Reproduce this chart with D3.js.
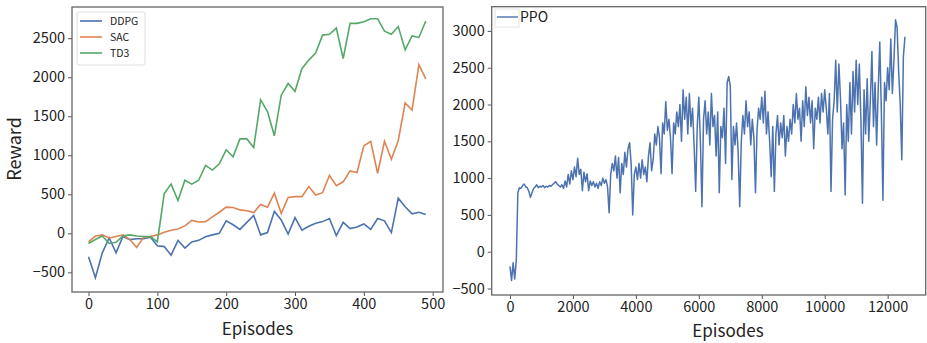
<!DOCTYPE html>
<html>
<head>
<meta charset="utf-8">
<script src="https://cdn.jsdelivr.net/npm/d3@7"></script>
<style>
  body { margin: 0; background: #fff; }
  svg text { font-family: "Noto Sans CJK SC", "Noto Sans", sans-serif; fill: #222; }
</style>
</head>
<body>
<svg id="chart" width="927" height="343"></svg>
<script>
// left panel: reward every 10 episodes
const episodes = d3.range(0, 500, 10);
const ddpg = [-300, -570, -250, -60, -250, -40, -80, -70, -70, -50,
  -160, -170, -280, -90, -190, -110, -90, -45, -20, 0,
  160, 110, 50, 140, 230, -20, 10, 280, 170, -10,
  200, 40, 90, 130, 150, 190, -30, 140, 60, 80,
  120, 50, 190, 160, 10, 450, 340, 250, 270, 240];
const sac = [-110, -35, -20, -60, -40, -20, -80, -180, -50, -40,
  -20, 15, 40, 55, 95, 165, 145, 150, 210, 270,
  335, 330, 300, 290, 265, 370, 335, 515, 255, 460,
  470, 470, 600, 490, 520, 740, 610, 660, 800, 780,
  1120, 1180, 770, 1180, 950, 1190, 1670, 1580, 2160, 1980];
const td3 = [-130, -80, -35, -130, -115, -35, -20, -35, -40, -40,
  -110, 510, 630, 420, 680, 630, 680, 870, 810, 890,
  1070, 980, 1210, 1210, 1100, 1710, 1560, 1250, 1770, 1920,
  1820, 2110, 2220, 2310, 2540, 2550, 2630, 2240, 2690, 2690,
  2710, 2750, 2750, 2590, 2550, 2650, 2350, 2530, 2510, 2720];
const leftSeries = [
  { name: "DDPG", values: ddpg, color: "#4c72b0" },
  { name: "SAC", values: sac, color: "#dd8452" },
  { name: "TD3", values: td3, color: "#55a868" }
];
const leftXTicks = [0, 100, 200, 300, 400, 500];
const leftYTicks = [-500, 0, 500, 1000, 1500, 2000, 2500];

// right panel: PPO reward read every 50 episodes
const ppoStep = 50;
const ppo = [
  -200, -390, -150, -370, -120, 800, 870, 860, 900, 920, 880, 870, 820, 740, 800, 860, 880, 910, 870, 890,
  880, 900, 870, 890, 880, 900, 890, 910, 930, 950, 920, 900, 880, 910, 860, 960, 880, 1050, 920, 1100,
  980, 1150, 1020, 1270, 1050, 1120, 830, 1080, 950, 1060, 830, 960, 900, 950, 880, 930, 860, 950, 900, 1000,
  930, 980, 880, 530, 1050, 1200, 1100, 1300, 1000, 1280, 800, 1200, 1050, 1350, 1150, 1400, 1480, 1200, 500, 1050,
  1150, 980, 1200, 1000, 1250, 1050, 1150, 950, 1300, 1480, 1100, 1250, 1600, 1450, 1700, 1550, 1060, 1750, 1600, 2040,
  1650, 1800, 1550, 1060, 1750, 1600, 1900, 1700, 2000, 1500, 2200, 1800, 2100, 1600, 2150, 1700, 1950, 1450, 820, 1700,
  2100, 1500, 610, 1800, 2050, 1600, 1900, 1450, 2150, 1700, 1850, 1300, 1900, 800, 1700, 1550, 1950, 1200, 2300, 2380,
  2250, 980, 1700, 1450, 1750, 1350, 610, 1500, 1850, 1600, 2050, 1700, 1900, 1450, 1800, 1550, 800, 1650, 1950, 1800,
  2100, 1750, 2180, 1600, 1900, 1500, 1020, 1700, 820, 1600, 1850, 1450, 1750, 1550, 1850, 1300, 1700, 1500, 1800, 1600,
  2000, 1750, 2150, 1800, 1950, 1500, 2050, 1700, 2240, 1850, 2100, 1750, 2050, 1400, 1950, 1800, 2100, 1750, 2150, 1900,
  2200, 1950, 1600, 2150, 820, 1800, 2050, 2600, 1900, 2550, 2100, 1400, 1750, 770, 2000, 1500, 2300, 1600, 2450, 1900,
  2600, 2000, 2550, 1800, 660, 2200, 1600, 2350, 1500, 2050, 2720, 1700, 2300, 1450, 2200, 2850, 1900, 700, 2300, 2050,
  2500, 2200, 2890, 2150, 2600, 3150, 3050, 2450, 2000, 1250, 2650, 2920
];
const rightXTicks = [0, 2000, 4000, 6000, 8000, 10000, 12000];
const rightYTicks = [-500, 0, 500, 1000, 1500, 2000, 2500, 3000];

const svg = d3.select("#chart");

function drawFrame(g, x, y, xTicks, yTicks) {
  g.append("g")
    .attr("transform", `translate(0,${y.range()[0]})`)
    .call(d3.axisBottom(x).tickValues(xTicks).tickFormat(d3.format("d")).tickSize(4).tickPadding(3))
    .call(a => a.select(".domain").remove());
  g.append("g")
    .attr("transform", `translate(${x.range()[0]},0)`)
    .call(d3.axisLeft(y).tickValues(yTicks).tickFormat(d3.format("d")).tickSize(4).tickPadding(3))
    .call(a => a.select(".domain").remove());
  g.selectAll(".tick text").style("font-size", "14.5px").attr("fill", "#222");
  g.selectAll(".tick line").attr("stroke", "#555");
  g.append("rect")
    .attr("x", x.range()[0]).attr("y", y.range()[1])
    .attr("width", x.range()[1] - x.range()[0])
    .attr("height", y.range()[0] - y.range()[1])
    .attr("fill", "none").attr("stroke", "#666").attr("stroke-width", 1.3);
}

// ---- left chart
const xL = d3.scaleLinear().domain([-24, 515]).range([72, 443]);
const yL = d3.scaleLinear().domain([-752, 2900]).range([292, 7]);
const gL = svg.append("g");
drawFrame(gL, xL, yL, leftXTicks, leftYTicks);

const lineL = d3.line().x((d, i) => xL(episodes[i])).y(d => yL(d));
leftSeries.forEach(s => {
  gL.append("path")
    .datum(s.values)
    .attr("fill", "none")
    .attr("stroke", s.color)
    .attr("stroke-width", 1.6)
    .attr("d", lineL);
});

gL.append("text")
  .attr("x", (xL.range()[0] + xL.range()[1]) / 2)
  .attr("y", 335)
  .attr("text-anchor", "middle")
  .style("font-size", "17px")
  .text("Episodes");
gL.append("text")
  .attr("transform", "translate(21,149) rotate(-90)")
  .attr("text-anchor", "middle")
  .style("font-size", "18px")
  .text("Reward");

// left legend
const legL = gL.append("g");
legL.append("rect")
  .attr("x", 77).attr("y", 12).attr("width", 68).attr("height", 53)
  .attr("rx", 2).attr("fill", "#fff").attr("stroke", "#ddd");
leftSeries.forEach((s, i) => {
  const yy = 21 + i * 16;
  legL.append("line").attr("x1", 80).attr("x2", 102).attr("y1", yy).attr("y2", yy)
    .attr("stroke", s.color).attr("stroke-width", 1.6);
  legL.append("text").attr("x", 110).attr("y", yy + 4)
    .style("font-size", "10.5px").attr("fill", "#333").text(s.name);
});

// ---- right chart
const xR = d3.scaleLinear().domain([-581, 13209]).range([491.7, 925.7]);
const yR = d3.scaleLinear().domain([-588, 3329]).range([295, 6.7]);
const gR = svg.append("g");
drawFrame(gR, xR, yR, rightXTicks, rightYTicks);

const lineR = d3.line().x((d, i) => xR(i * ppoStep)).y(d => yR(d));
gR.append("path")
  .datum(ppo)
  .attr("fill", "none")
  .attr("stroke", "#4c72b0")
  .attr("stroke-width", 1.5)
  .attr("stroke-linejoin", "round")
  .attr("d", lineR);

gR.append("text")
  .attr("x", 728)
  .attr("y", 337)
  .attr("text-anchor", "middle")
  .style("font-size", "17px")
  .text("Episodes");

// right legend
gR.append("rect")
  .attr("x", 495).attr("y", 9).attr("width", 24).attr("height", 18)
  .attr("fill", "#fff").attr("stroke", "#e4e4e4");
gR.append("line").attr("x1", 497).attr("x2", 518).attr("y1", 17).attr("y2", 17)
  .attr("stroke", "#4c72b0").attr("stroke-width", 1.4);
gR.append("text").attr("x", 520).attr("y", 22)
  .style("font-size", "14px").attr("fill", "#333").text("PPO");
</script>
</body>
</html>
